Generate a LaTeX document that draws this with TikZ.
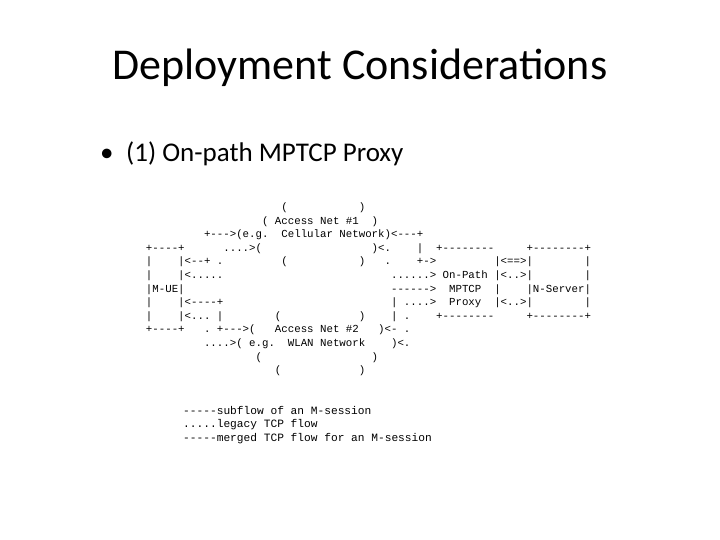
\documentclass[tikz,border=0pt]{standalone}
\usepackage{fontspec}
\setmainfont{Carlito}
\setmonofont{Liberation Mono}
\usepackage{tikz}

% blank run of n monospace cells
\newcommand{\asgap}[1]{\kern#1\dimexpr0.6em\relax}

\begin{document}
\begin{tikzpicture}[
    x=1pt, y=-1pt,
    titletext/.style={
        inner sep=0pt,
        font=\fontsize{44}{50}\selectfont
    },
    bullettext/.style={
        anchor=base west,
        inner sep=0pt,
        font=\fontsize{27}{32}\selectfont
    },
    ascii/.style={
        anchor=base west,
        inner sep=0pt,
        font=\fontsize{10.75}{12}\selectfont\ttfamily\frenchspacing
    },
    keyline/.style={
        anchor=base west,
        inner sep=0pt,
        font=\fontsize{11.2}{13}\selectfont\ttfamily\frenchspacing
    },
]

\useasboundingbox (0,0) rectangle (720,540);

\node[titletext] (title) at (360,68) {Deployment Considerations};
\node[bullettext] (dot) at (100,162) {\textbullet};
\node[bullettext] (point) at (126,162) {(1) On-path MPTCP Proxy};

% ascii figure, one node per text row
\begin{scope}[xshift=145.775pt, yshift=-210.5pt, x=6.45pt, y=-13.6pt]
\node[ascii] (r0)  at (21,0)  {(\asgap{11})};
\node[ascii] (r1)  at (18,1)  {( Access Net \#1\asgap{2})};
\node[ascii] (r2)  at (9,2)   {+--->(e.g.\asgap{2}Cellular Network)<---+};
\node[ascii] (r3)  at (0,3)   {+----+\asgap{6}....>(\asgap{17})<.\asgap{4}|\asgap{2}+--------\asgap{5}+--------+};
\node[ascii] (r4)  at (0,4)   {|\asgap{4}|<--+\asgap{1}.\asgap{9}(\asgap{11})\asgap{3}.\asgap{4}+->\asgap{9}|<==>|\asgap{8}|};
\node[ascii] (r5)  at (0,5)   {|\asgap{4}|<.....\asgap{26}......>\asgap{1}On-Path\asgap{1}|<..>|\asgap{8}|};
\node[ascii] (r6)  at (0,6)   {|M-UE|\asgap{32}------>\asgap{2}MPTCP\asgap{2}|\asgap{4}|N-Server|};
\node[ascii] (r7)  at (0,7)   {|\asgap{4}|<----+\asgap{26}|\asgap{1}....>\asgap{2}Proxy\asgap{2}|<..>|\asgap{8}|};
\node[ascii] (r8)  at (0,8)   {|\asgap{4}|<...\asgap{1}|\asgap{8}(\asgap{12})\asgap{4}|\asgap{1}.\asgap{4}+--------\asgap{5}+--------+};
\node[ascii] (r9)  at (0,9)   {+----+\asgap{3}.\asgap{1}+--->(\asgap{3}Access Net \#2\asgap{3})<-\asgap{1}.};
\node[ascii] (r10) at (9,10)  {....>( e.g.\asgap{2}WLAN Network\asgap{4})<.};
\node[ascii] (r11) at (17,11) {(\asgap{17})};
\node[ascii] (r12) at (20,12) {(\asgap{12})};
\end{scope}

% legend
\node[keyline] (k1) at (183,414)   {-----subflow of an M-session};
\node[keyline] (k2) at (183,427.5) {.....legacy TCP flow};
\node[keyline] (k3) at (183,441)   {-----merged TCP flow for an M-session};

\end{tikzpicture}
\end{document}
